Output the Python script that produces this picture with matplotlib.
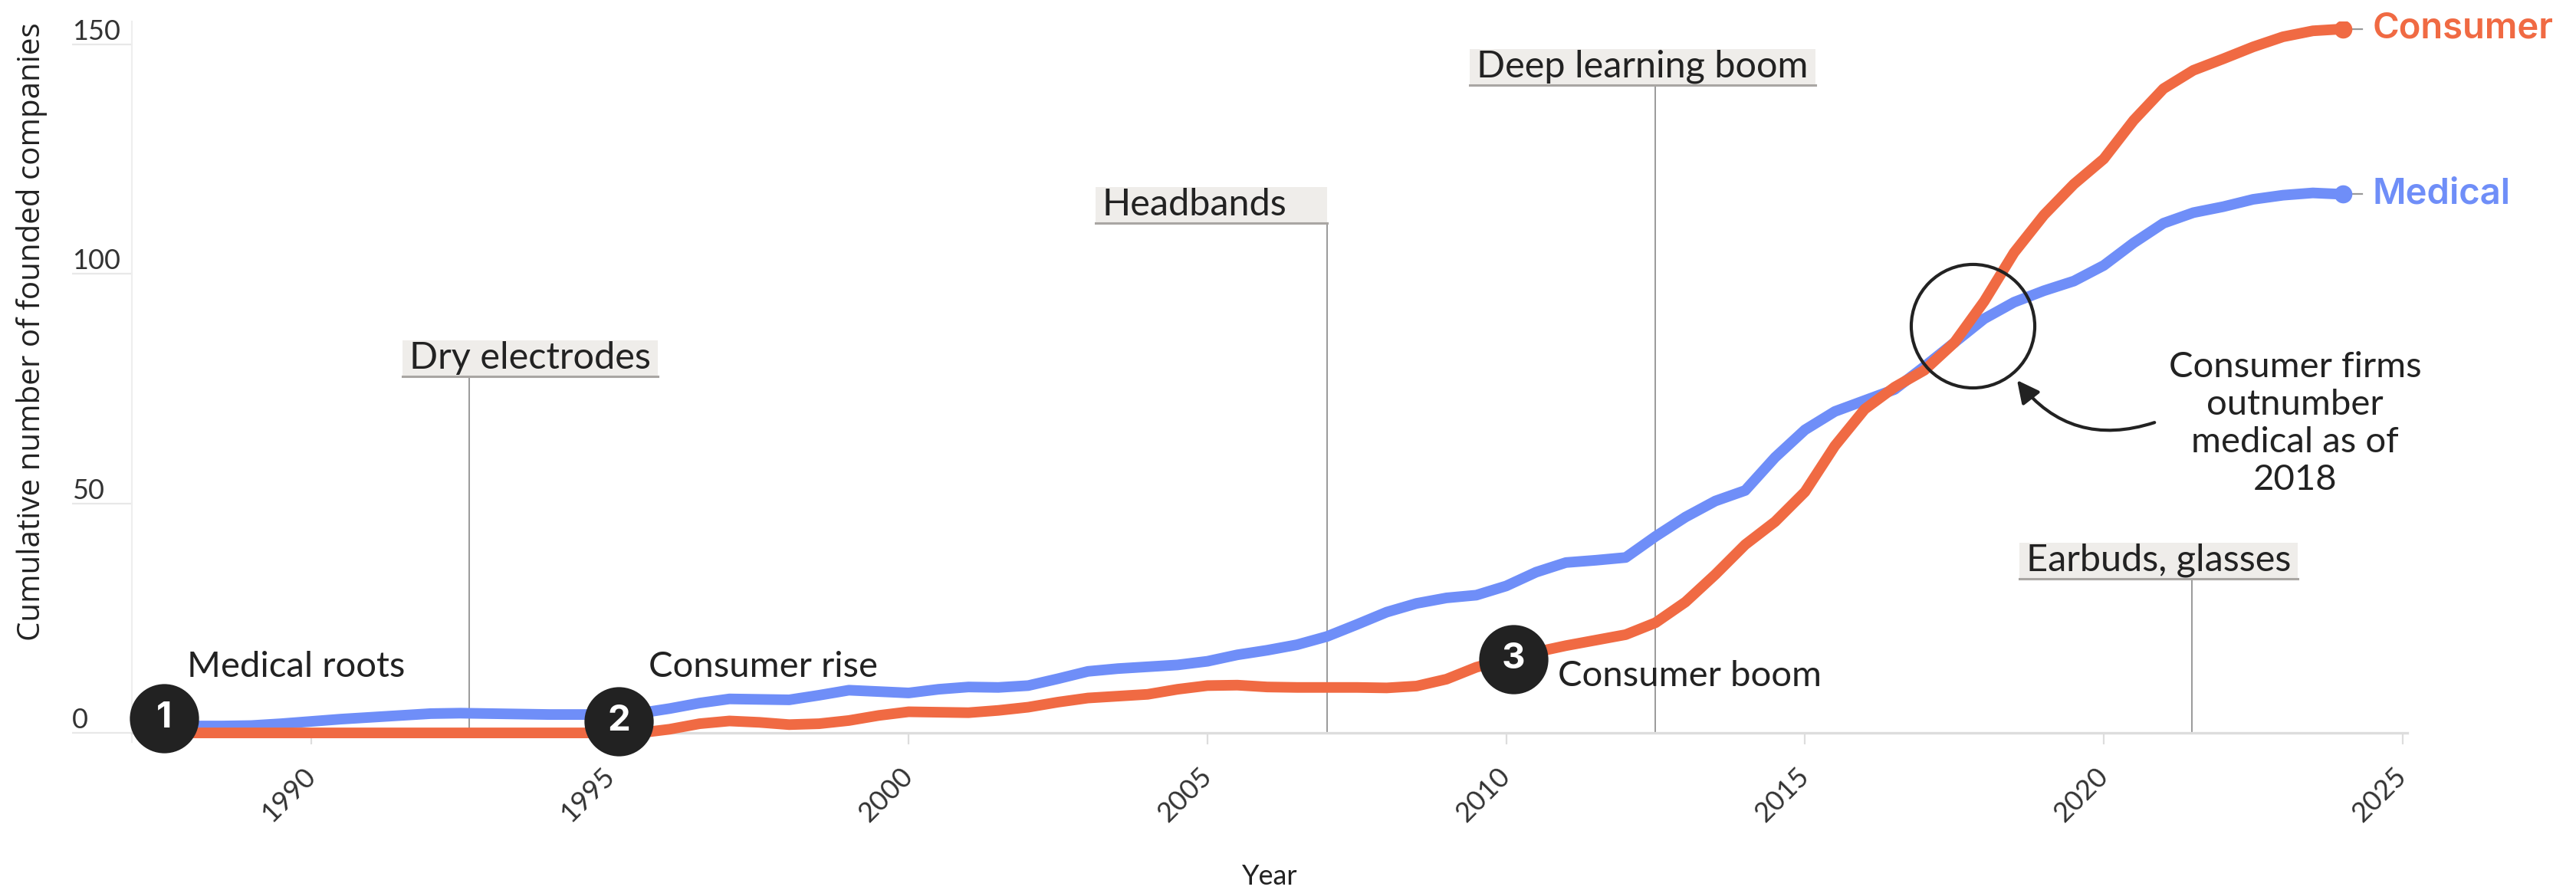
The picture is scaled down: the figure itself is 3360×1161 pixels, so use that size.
import numpy as np
import matplotlib
matplotlib.use("Agg")
import matplotlib.pyplot as plt
from matplotlib.patches import FancyArrowPatch, Rectangle

# valores (cada medio anio)
years = np.arange(1988, 2024.5, 0.5)

medical = [1.5, 1.5, 1.6, 2.0, 2.5, 3.0, 3.4, 3.8, 4.2, 4.3, 4.2, 4.1,
           4.0, 4.0, 4.0, 4.3, 5.3, 6.5, 7.4, 7.3, 7.2, 8.2, 9.3, 9.0,
           8.7, 9.5, 10.0, 9.9, 10.3, 11.8, 13.4, 14.0, 14.4, 14.8, 15.6, 17.0,
           18.0, 19.2, 21.0, 23.6, 26.3, 28.2, 29.4, 30.0, 32.0, 35.0, 37.1, 37.6,
           38.2, 42.8, 47.0, 50.5, 52.8, 60.0, 66.0, 70.0, 72.4, 74.8, 79.8, 85.0,
           90.2, 93.8, 96.3, 98.4, 101.8, 106.7, 111.0, 113.3, 114.6, 116.2, 117.1, 117.6,
           117.3]

consumer = [0, 0, 0, 0, 0, 0, 0, 0, 0, 0, 0, 0,
            0, 0, 0, 0, 0.8, 2.0, 2.6, 2.3, 1.8, 2.0, 2.7, 3.8,
            4.6, 4.5, 4.4, 4.9, 5.6, 6.7, 7.6, 8.0, 8.4, 9.5, 10.3, 10.4,
            10.0, 9.9, 9.9, 9.9, 9.8, 10.2, 11.7, 14.3, 16.0, 17.6, 19.0, 20.2,
            21.4, 24.0, 28.5, 34.5, 41.0, 46.0, 52.5, 62.5, 70.5, 75.3, 79.0, 85.0,
            94.0, 104.6, 112.8, 119.5, 125.0, 133.4, 140.3, 144.3, 146.8, 149.4, 151.6, 152.9,
            153.3]

# hitos con caja
hitos = ["Dry electrodes", "Headbands", "Deep learning boom", "Earbuds, glasses"]
hitos_anio = [1992.65, 2007.0, 2012.5, 2021.47]
hitos_tx = [1991.64, 2003.24, 2009.51, 2018.7]
hitos_ty = [81.6, 115.1, 145.1, 37.6]

# fases numeradas
fases_num = ["1", "2", "3"]
fases_txt = ["Medical roots", "Consumer rise", "Consumer boom"]
fases_x = [1987.54, 1995.15, 2010.12]
fases_y = [3.2, 2.5, 16.0]
fases_tx = [1987.92, 1995.65, 2010.87]
fases_ty = [12.2, 12.2, 10.2]

AZUL = "#6F8EF8"
NARANJA = "#F06A43"
OSCURO = "#222222"

plt.rcParams["font.family"] = ["Lato", "DejaVu Sans"]

fig = plt.figure(figsize=(16.8, 5.805), dpi=200)
ax = fig.add_axes([0.0512, 0.1662, 0.8833, 0.810])
ax.set_xlim(1987.0, 2025.08)
ax.set_ylim(-2, 155)

ax.plot(years, medical, color=AZUL, lw=5, solid_capstyle="round", solid_joinstyle="round", zorder=3)
ax.plot(years, consumer, color=NARANJA, lw=5, solid_capstyle="round", solid_joinstyle="round", zorder=4)

# puntos finales y etiquetas
for nombre, vals, col in [("Medical", medical, AZUL), ("Consumer", consumer, NARANJA)]:
    ax.plot(years[-1], vals[-1], "o", ms=7.5, color=col, zorder=5)
    ax.plot([years[-1] + 0.12, years[-1] + 0.33], [vals[-1], vals[-1]], color="#999999", lw=0.8, zorder=2)
    ax.text(2024.5, vals[-1], nombre, color=col, fontsize=17, fontweight="semibold",
            family=["Inter", "DejaVu Sans"], ha="left", va="center")

# cajas de hitos
cajas = []
for lab, tx, ty in zip(hitos, hitos_tx, hitos_ty):
    t = ax.text(tx, ty, lab, fontsize=17.5, color=OSCURO, ha="left", va="center", zorder=3)
    cajas.append(t)

fig.canvas.draw()
renderer = fig.canvas.get_renderer()
inv = ax.transData.inverted()
for t, lab, anio in zip(cajas, hitos, hitos_anio):
    bb = t.get_window_extent(renderer)
    (x0, y0), (x1, y1) = inv.transform([[bb.x0 - 9, bb.y0 - 2], [bb.x1 + 9, bb.y1 + 1]])
    x1 = max(x1, anio)
    ax.add_patch(Rectangle((x0, y0), x1 - x0, y1 - y0, fc="#EFEDEA", ec="none", zorder=2))
    ax.plot([x0, x1], [y0, y0], color="#A9A6A3", lw=1.1, zorder=2)
    ax.plot([anio, anio], [0, y0], color="#9A9A9A", lw=0.7, zorder=1)
    if lab == "Headbands":
        ax.plot([anio, anio + 0.5], [0, 0], color="#9A9A9A", lw=1.0, zorder=1)

# circulos numerados
for n, x, y, lab, tx, ty in zip(fases_num, fases_x, fases_y, fases_txt, fases_tx, fases_ty):
    ax.plot(x, y, "o", ms=31.5, color=OSCURO, zorder=6, clip_on=False)
    ax.text(x, y, n, color="white", fontsize=17, fontweight="bold", family=["Inter", "DejaVu Sans"],
            ha="center", va="center", zorder=7)
    ax.text(tx, ty, lab, fontsize=17, color=OSCURO, ha="left", va="baseline", zorder=7)

# cruce
ax.plot(2017.8, 88.6, "o", ms=58, mfc="none", mec=OSCURO, mew=1.5, zorder=6)
flecha = FancyArrowPatch((2020.85, 67.6), (2018.55, 76.8), arrowstyle="-|>", mutation_scale=22,
                         connectionstyle="arc3,rad=-0.35", color=OSCURO, lw=1.5,
                         shrinkA=0, shrinkB=0, zorder=6)
ax.add_patch(flecha)
ax.text(2023.2, 67.4, "Consumer firms\noutnumber\nmedical as of\n2018", fontsize=17, color=OSCURO,
        ha="center", va="center", linespacing=1.2)

# ejes
for s in ["top", "right"]:
    ax.spines[s].set_visible(False)
ax.spines["left"].set_color("#EEEEEE")
ax.spines["left"].set_linewidth(0.8)
ax.spines["bottom"].set_position(("data", 0))
ax.spines["bottom"].set_color("#DDDDDD")
ax.spines["bottom"].set_linewidth(1.2)

ax.set_xticks([1990, 1995, 2000, 2005, 2010, 2015, 2020, 2025])
ax.set_yticks([0, 50, 100, 150])
ax.tick_params(axis="x", length=5.5, width=0.8, color="#DDDDDD", pad=13, labelsize=13, labelcolor="#333333")
ax.tick_params(axis="y", length=28, width=0.8, color="#E8E8E8", pad=0, labelsize=13, labelcolor="#333333")
plt.setp(ax.get_xticklabels(), rotation=45, ha="right", va="center", rotation_mode="anchor")
plt.setp(ax.get_yticklabels(), ha="left", va="bottom")

ax.set_ylabel("Cumulative number of founded companies", fontsize=14.5, family=["Open Sans", "DejaVu Sans"],
              color=OSCURO)
ax.yaxis.set_label_coords(-0.037, 0.569)
ax.set_xlabel("Year", fontsize=13, color=OSCURO)
ax.xaxis.set_label_coords(0.5, -0.169)

fig.savefig("out.png", dpi=200, facecolor="white")
